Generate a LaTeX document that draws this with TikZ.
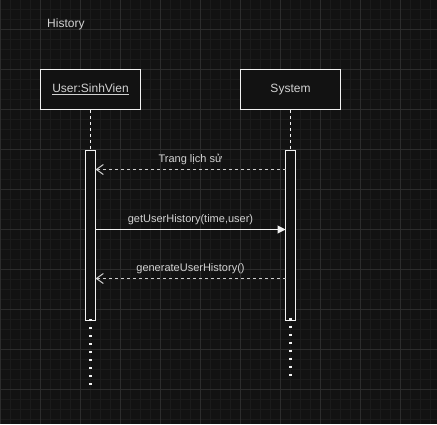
\documentclass[tikz,border=0pt]{standalone}
\usepackage{fontspec}
\setmainfont{Liberation Sans}
\usetikzlibrary{arrows.meta}
\definecolor{canvas}{HTML}{121212}
\definecolor{gridminor}{HTML}{1B1B1B}
\definecolor{gridmajor}{HTML}{2C2C2C}
\definecolor{ink}{HTML}{D2D2D2}
\definecolor{edge}{HTML}{F2F2F2}
\tikzset{
  actor/.style={draw=edge, fill=canvas, line width=1pt, minimum width=100pt, minimum height=40pt,
    inner sep=0pt, text=ink, font=\fontsize{12}{14}\selectfont},
  activation/.style={draw=edge, fill=canvas, line width=1pt, minimum width=10pt, minimum height=170pt, inner sep=0pt},
  lifeline/.style={draw=edge, line width=1pt, dash pattern=on 3pt off 3pt},
  tail/.style={draw=edge, line width=2.2pt, dash pattern=on 2.2pt off 5.8pt},
  callmsg/.style={draw=edge, line width=1pt, -{Triangle[length=8pt,width=8pt]}},
  replymsg/.style={draw=edge!85!black, line width=1pt, dash pattern=on 3pt off 3pt,
    -{Straight Barb[length=7pt,width=10pt,line width=1pt]}},
  msglabel/.style={text=ink, font=\fontsize{11}{13}\selectfont, inner sep=0pt},
}
\begin{document}
\begin{tikzpicture}[x=1pt,y=-1pt]
  % canvas and grid
  \fill[canvas] (0,0) rectangle (437,424);
  \useasboundingbox (0,0) rectangle (437,424);
  \foreach \gx in {0,10,...,430} \draw[gridminor,line width=0.8pt] (\gx+0.5,0) -- (\gx+0.5,424);
  \foreach \gy in {9,19,...,419} \draw[gridminor,line width=0.8pt] (0,\gy+0.5) -- (437,\gy+0.5);
  \foreach \gx in {0,40,...,430} \draw[gridmajor,line width=1pt] (\gx+0.5,0) -- (\gx+0.5,424);
  \foreach \gy in {29,69,...,419} \draw[gridmajor,line width=1pt] (0,\gy+0.5) -- (437,\gy+0.5);

  % title
  \node[msglabel, font=\fontsize{12}{14}\selectfont, anchor=west] (title) at (47,24) {History};

  % participants
  \node[actor] (user) at (90.5,89.5) {\underline{User:SinhVien}};
  \node[actor] (sys) at (290.5,89.5) {System};

  % activation bars
  \node[activation, anchor=north] (actU) at (90.5,149.5) {};
  \node[activation, anchor=north] (actS) at (290.5,149.5) {};

  % lifelines
  \draw[lifeline] (user.south) -- (actU.north);
  \draw[lifeline] (sys.south) -- (actS.north);
  \coordinate (endU) at (90.5,385);
  \coordinate (endS) at (290.5,379);
  \draw[tail] ([yshift=1.5pt]actU.south) -- (endU);
  \draw[tail] ([yshift=3pt]actS.south) -- (endS);

  % message end points on the activation bars
  \coordinate (m1s) at (285.5,169.5);
  \coordinate (m1e) at (95.5,169.5);
  \coordinate (m2s) at (95.5,229.5);
  \coordinate (m2e) at (285.5,229.5);
  \coordinate (m3s) at (285.5,278.5);
  \coordinate (m3e) at (95.5,278.5);

  % messages
  \draw[replymsg] (m1s) -- node[msglabel, above=4pt] (l1) {Trang lịch sử} (m1e);
  \draw[callmsg] (m2s) -- node[msglabel, above=4pt] (l2) {getUserHistory(time,user)} (m2e);
  \draw[replymsg] (m3s) -- node[msglabel, above=4pt] (l3) {generateUserHistory()} (m3e);
\end{tikzpicture}
\end{document}
